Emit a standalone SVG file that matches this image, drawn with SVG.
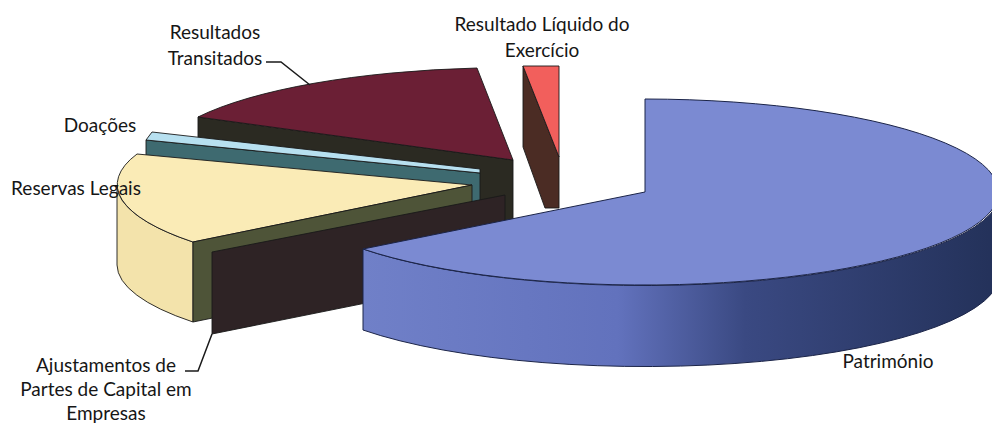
<svg xmlns="http://www.w3.org/2000/svg" width="992" height="425" viewBox="0 0 992 425">
<style>
.lbl{font-family:Lato,"Liberation Sans",sans-serif;font-size:19px;fill:#161616;text-anchor:middle}
.e{stroke:#1a1a1a;stroke-width:0.9;stroke-linejoin:round}
.lead{fill:none;stroke:#1a1a1a;stroke-width:1.5}
</style>
<defs>
<linearGradient id="pside" gradientUnits="userSpaceOnUse" x1="363" y1="0" x2="1000" y2="0">
<stop offset="0" stop-color="#7080c8"/>
<stop offset="0.4" stop-color="#6272bd"/>
<stop offset="0.6" stop-color="#3a4982"/>
<stop offset="1" stop-color="#233159"/>
</linearGradient>
</defs>
<rect width="992" height="425" fill="#ffffff"/>

<g id="resultados-transitados">
<path class="e" d="M198,117 L513,160 L513,240 L198,197 Z" fill="#2b2a22"/>
<path class="e" d="M513,160 L477,68 A355,93 0 0 0 198,117 Z" fill="#6b1f35"/>
<text class="lbl" x="215" y="39">Resultados</text>
<text class="lbl" x="215" y="65">Transitados</text>
</g>

<g id="doacoes">
<path class="e" d="M146,140 L480,173 L480,253 L146,220 Z" fill="#3e6a70"/>
<path class="e" d="M152,132 L480,169 L480,173 L146,140 Z" fill="#b7e0f0"/>
<text class="lbl" x="100" y="132">Doações</text>
</g>

<g id="reservas-legais">
<path class="e" d="M117,185 A355,93 0 0 0 193,242 L193,322 A355,93 0 0 1 117,265 Z" fill="#f3e3ab"/>
<path class="e" d="M472,185 L137,154 A355,93 0 0 0 193,242 Z" fill="#faebb6"/>
<path class="e" d="M193,242 L472,185 L472,265 L193,322 Z" fill="#4e5438"/>
</g>

<g id="ajustamentos">
<path class="e" d="M212,252 L505,195 L505,275 L212,334 Z" fill="#2e2325"/>
</g>

<g id="resultado-liquido">
<path class="e" d="M523,66 L559,157 L559,208 L545,208 L523,147 Z" fill="#4b2c24"/>
<path class="e" d="M523,66 L559,66 L559,157 Z" fill="#f25f5c"/>
<text class="lbl" x="542" y="31">Resultado Líquido do</text>
<text class="lbl" x="542" y="57">Exercício</text>
</g>

<g id="patrimonio">
<path d="M363,249 A355,93 0 0 0 1000,192 L1000,272 A355,93 0 0 1 363,330 Z" fill="url(#pside)" stroke="#1b2448" stroke-width="1"/>
<path d="M645,192 L645,99 A355,93 0 1 1 363,249 Z" fill="#7b8ad2" stroke="#1b2448" stroke-width="1"/>
<text class="lbl" x="888" y="368">Património</text>
</g>

<g id="labels-left">
<text class="lbl" x="76" y="195">Reservas Legais</text>
<text class="lbl" x="106" y="372">Ajustamentos de</text>
<text class="lbl" x="106" y="396">Partes de Capital em</text>
<text class="lbl" x="106" y="420">Empresas</text>
</g>

<g id="connectors">
<path class="lead" d="M266,62 L281,62 L310,85"/>
<path class="lead" d="M185,371 L198,371 L212,334"/>
</g>
</svg>
